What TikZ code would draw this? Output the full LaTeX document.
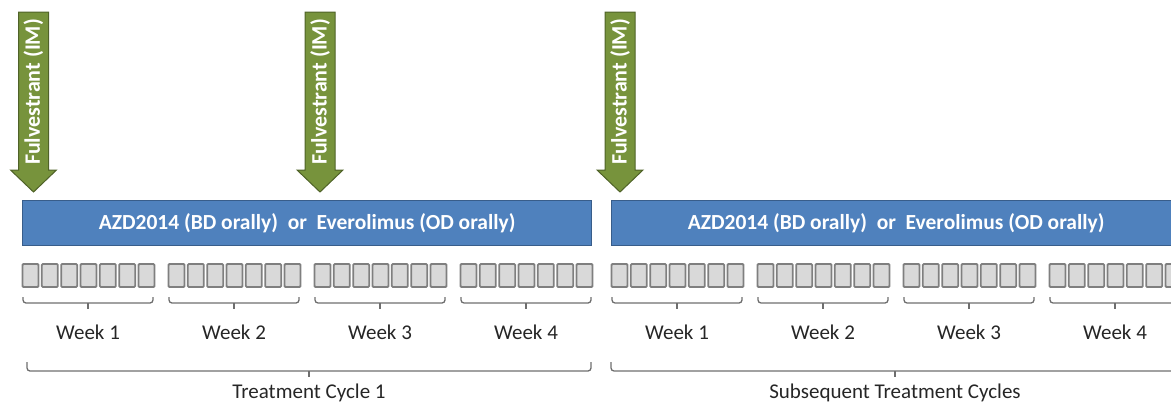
\documentclass[tikz,border=0pt]{standalone}
\usepackage{fontspec}
\setmainfont{Carlito}
\usetikzlibrary{positioning,calc}
\definecolor{barblue}{HTML}{4F81BD}
\definecolor{barline}{HTML}{385D8A}
\definecolor{dosegreen}{HTML}{77933C}
\definecolor{doseline}{HTML}{4F6228}
\definecolor{dayfill}{HTML}{D9D9D9}
\definecolor{dayline}{HTML}{7F7F7F}
\definecolor{brkline}{HTML}{6E6E6E}
\definecolor{labeltxt}{HTML}{262626}

\begin{document}
\begin{tikzpicture}[x=1pt,y=-1pt,
    bar/.style={
      draw=barline,
      fill=barblue,
      line width=1.2pt,
      anchor=north west,
      minimum width=569pt,
      minimum height=45pt,
      inner sep=0pt,
      text=white,
      font=\bfseries\fontsize{21.5}{24}\selectfont
    },
    dose/.style={
      draw=doseline,
      fill=dosegreen,
      line width=1pt,
      line join=miter
    },
    dosetext/.style={
      rotate=90,
      text=white,
      inner sep=0pt,
      font=\bfseries\fontsize{22}{24}\selectfont
    },
    day/.style={
      draw=dayline,
      fill=dayfill,
      line width=1.8pt,
      rounded corners=1pt
    },
    brk/.style={
      draw=brkline,
      line width=1.3pt,
      rounded corners=3pt
    },
    lbl/.style={
      text=labeltxt,
      inner sep=0pt,
      font=\fontsize{21}{24}\selectfont
    }
  ]
    \useasboundingbox (0,0) rectangle (1171,402);
    \clip (0,0) rectangle (1171,402);

    % fulvestrant injections
    \foreach \cx [count=\i] in {33.5,320,620} {
      \draw[dose] (\cx-15,12) -- (\cx+15,12) -- (\cx+15,170) -- (\cx+23,170)
        -- (\cx,192) -- (\cx-23,170) -- (\cx-15,170) -- cycle;
      \node[dosetext] (fulv\i) at (\cx,92) {Fulvestrant (IM)};
    }

    % daily oral dosing
    \node[bar] (bar1) at (22,200) {AZD2014 (BD orally)\ \ or\ \ Everolimus (OD orally)};
    \node[bar] (bar2) at (611,200) {AZD2014 (BD orally)\ \ or\ \ Everolimus (OD orally)};

    % days, weeks
    \foreach \g [count=\i] in {22,168,314,460,611,757,903,1049} {
      \foreach \d in {0,...,6}
        \draw[day] (\g+0.5+\d*19.33,264) rectangle ++(16,23);
      \pgfmathtruncatemacro{\wk}{mod(\i-1,4)+1}
      \draw[brk] (\g+1,297) -- (\g+1,303) -- (\g+131,303) -- (\g+131,297);
      \draw[brk] (\g+66,303) -- ++(0,6);
      \node[lbl] (week\i) at (\g+66,332) {Week \wk};
    }

    % cycles
    \draw[brk] (27,362) -- (27,371) -- (591,371) -- (591,362);
    \draw[brk] (309,371) -- ++(0,6);
    \node[lbl] (cycle1) at (309,393) {Treatment Cycle 1};
    \draw[brk] (611,362) -- (611,371) -- (1179,371) -- (1179,362);
    \draw[brk] (895,371) -- ++(0,6);
    \node[lbl] (cycle2) at (895,393) {Subsequent Treatment Cycles};
  \end{tikzpicture}
\end{document}
